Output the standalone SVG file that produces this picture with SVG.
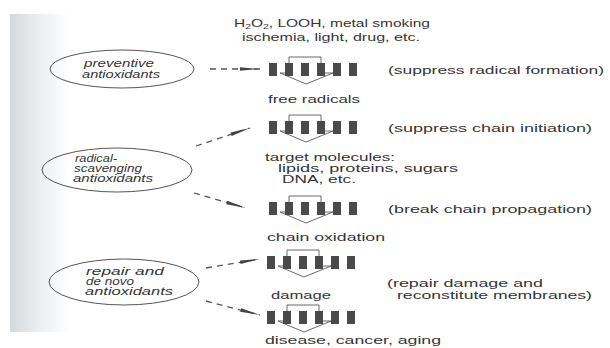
<svg xmlns="http://www.w3.org/2000/svg" width="610" height="348" viewBox="0 0 610 348">
<defs>
<linearGradient id="margin" x1="0" y1="0" x2="1" y2="0">
<stop offset="0" stop-color="#d6d9de"/>
<stop offset="0.5" stop-color="#eceef0"/>
<stop offset="1" stop-color="#ffffff"/>
</linearGradient>
<marker id="head" viewBox="0 0 20 6" refX="20" refY="3" markerWidth="20" markerHeight="6" markerUnits="userSpaceOnUse" orient="auto">
<path d="M0,1.2 L20,3 L0,4.8 Z" fill="#444"/>
</marker>
<g id="blocks">
<path class="arrow" d="M20,-6 H52 V10 H64 L37,21 L11,10 H20 Z"/>
<rect class="blk" x="0" y="0" width="8" height="13"/>
<rect class="blk" x="16" y="0" width="8" height="13"/>
<rect class="blk" x="32" y="0" width="8" height="13"/>
<rect class="blk" x="48" y="0" width="8" height="13"/>
<rect class="blk" x="64" y="0" width="8" height="13"/>
<rect class="blk" x="80" y="0" width="8" height="13"/>
</g>
</defs>
<style>
text{font-family:"Liberation Sans",Arial,sans-serif;font-size:10.5px;fill:#353535;}
.it{font-style:italic;font-size:10px;}
.sm{font-size:10px;}
.oval{fill:none;stroke:#555;stroke-width:1;}
.blk{fill:#4a4a4a;}
.arrow{fill:none;stroke:#5a5a5a;stroke-width:0.9;}
.dash{fill:none;stroke:#555;stroke-width:1.3;stroke-dasharray:6 5;}
</style>
<rect x="0" y="0" width="610" height="348" fill="#ffffff"/>
<rect x="10" y="14" width="60" height="318" fill="url(#margin)"/>

<g id="source">
<text x="234" y="27" textLength="196" lengthAdjust="spacingAndGlyphs">H<tspan font-size="7" dy="2">2</tspan><tspan dy="-2">O</tspan><tspan font-size="7" dy="2">2</tspan><tspan dy="-2">, LOOH, metal smoking</tspan></text>
<text x="242" y="41" textLength="178" lengthAdjust="spacingAndGlyphs">ischemia, light, drug, etc.</text>
</g>

<g id="preventive">
<ellipse class="oval" cx="122" cy="69" rx="72" ry="19"/>
<text class="it" x="84" y="67" textLength="70" lengthAdjust="spacingAndGlyphs">preventive</text>
<text class="it" x="82" y="78" textLength="78" lengthAdjust="spacingAndGlyphs">antioxidants</text>
</g>

<g id="scavenging">
<ellipse class="oval" cx="117" cy="170" rx="75" ry="22"/>
<text class="it" x="75" y="162" textLength="42" lengthAdjust="spacingAndGlyphs">radical-</text>
<text class="it" x="74" y="172" textLength="68" lengthAdjust="spacingAndGlyphs">scavenging</text>
<text class="it" x="73" y="182" textLength="80" lengthAdjust="spacingAndGlyphs">antioxidants</text>
</g>

<g id="repair">
<ellipse class="oval" cx="124" cy="282" rx="75" ry="23"/>
<text class="it" x="86" y="275" textLength="78" lengthAdjust="spacingAndGlyphs">repair and</text>
<text class="it" x="86" y="285" textLength="48" lengthAdjust="spacingAndGlyphs">de novo</text>
<text class="it" x="85" y="295" textLength="88" lengthAdjust="spacingAndGlyphs">antioxidants</text>
</g>

<g id="step1">
<use href="#blocks" x="269" y="63"/>
<text x="388" y="74" textLength="216" lengthAdjust="spacingAndGlyphs">(suppress radical formation)</text>
<text x="268" y="103" textLength="92" lengthAdjust="spacingAndGlyphs">free radicals</text>
</g>

<g id="step2">
<use href="#blocks" x="269" y="121"/>
<text x="388" y="132" textLength="204" lengthAdjust="spacingAndGlyphs">(suppress chain initiation)</text>
<text class="sm" x="265" y="161" textLength="130" lengthAdjust="spacingAndGlyphs">target molecules:</text>
<text class="sm" x="278" y="172" textLength="180" lengthAdjust="spacingAndGlyphs">lipids, proteins, sugars</text>
<text class="sm" x="282" y="183" textLength="74" lengthAdjust="spacingAndGlyphs">DNA, etc.</text>
</g>

<g id="step3">
<use href="#blocks" x="269" y="202"/>
<text x="388" y="213" textLength="204" lengthAdjust="spacingAndGlyphs">(break chain propagation)</text>
<text x="267" y="241" textLength="118" lengthAdjust="spacingAndGlyphs">chain oxidation</text>
</g>

<g id="step4">
<use href="#blocks" x="267" y="256"/>
<text x="387" y="287" textLength="156" lengthAdjust="spacingAndGlyphs">(repair damage and</text>
<text x="397" y="299" textLength="195" lengthAdjust="spacingAndGlyphs">reconstitute membranes)</text>
<text x="271" y="299" textLength="60" lengthAdjust="spacingAndGlyphs">damage</text>
</g>

<g id="step5">
<use href="#blocks" x="267" y="311"/>
<text x="265" y="344" textLength="176" lengthAdjust="spacingAndGlyphs">disease, cancer, aging</text>
</g>

<g id="connectors">
<path class="dash" d="M210,69 L260,69" marker-end="url(#head)"/>
<path class="dash" d="M196,146 L250,128" marker-end="url(#head)"/>
<path class="dash" d="M194,193 L246,208" marker-end="url(#head)"/>
<path class="dash" d="M206,268 L260,259" marker-end="url(#head)"/>
<path class="dash" d="M206,301 L260,315" marker-end="url(#head)"/>
</g>
</svg>
